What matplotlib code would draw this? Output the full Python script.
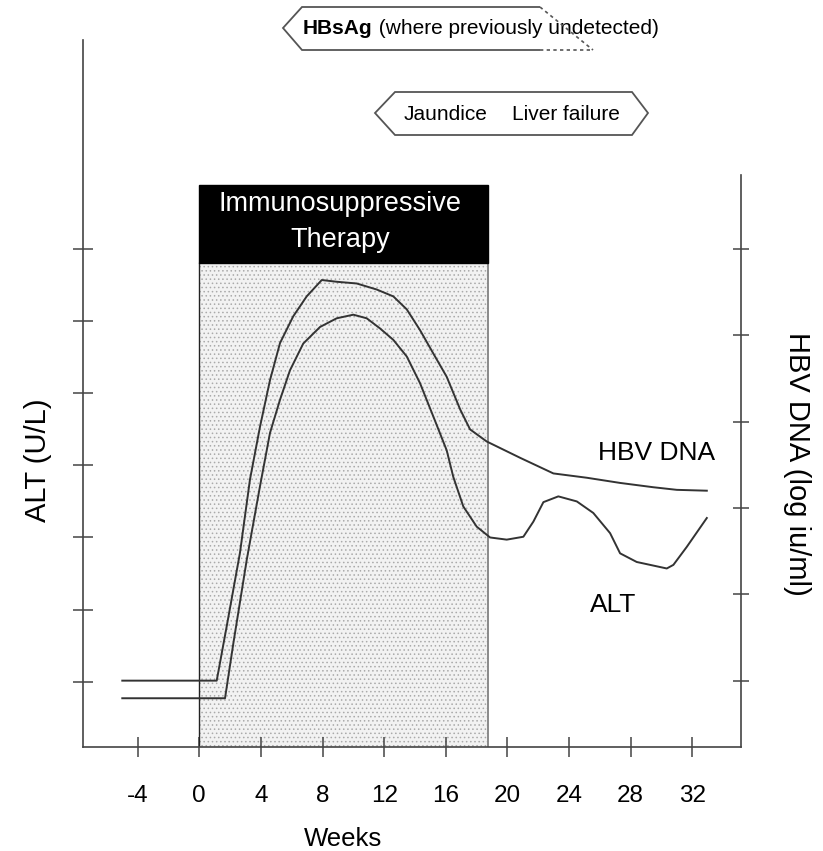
import numpy as np
import matplotlib
matplotlib.use("Agg")
import matplotlib.pyplot as plt
from matplotlib.patches import Rectangle, Polygon
from matplotlib.lines import Line2D

plt.rcParams['font.family'] = ['Liberation Sans', 'DejaVu Sans']
plt.rcParams['hatch.linewidth'] = 0.6

# data
hbv_weeks = [-5.0, 1.13, 1.78, 2.64, 3.29, 3.94, 4.59, 5.24, 6.10, 6.97, 7.95, 8.92,
             10.22, 11.52, 12.60, 13.47, 14.33, 15.19, 16.06, 16.94, 17.58, 18.66,
             20.84, 22.99, 25.16, 27.32, 29.48, 31.0, 32.95]
hbv_dna = [1.0, 1.0, 1.63, 2.48, 3.33, 3.94, 4.48, 4.91, 5.22, 5.45, 5.64, 5.62,
           5.60, 5.53, 5.45, 5.30, 5.06, 4.79, 4.52, 4.14, 3.91, 3.77,
           3.58, 3.40, 3.35, 3.29, 3.24, 3.21, 3.20]

alt_weeks = [-5.0, 1.67, 2.21, 3.08, 3.94, 4.59, 5.24, 5.89, 6.75, 7.84, 8.92, 10.0,
             10.87, 11.73, 12.60, 13.47, 14.33, 15.19, 16.06, 16.49, 17.14, 18.01,
             18.88, 19.96, 21.04, 21.69, 22.34, 23.31, 24.51, 25.58, 26.67, 27.32,
             28.40, 30.35, 30.78, 31.65, 32.95]
alt = [0.77, 0.77, 1.53, 2.69, 3.71, 4.45, 4.91, 5.32, 5.69, 5.92, 6.04, 6.09,
       6.04, 5.90, 5.74, 5.51, 5.14, 4.68, 4.21, 3.84, 3.43, 3.15,
       3.00, 2.97, 3.01, 3.22, 3.49, 3.57, 3.50, 3.34, 3.06, 2.78,
       2.66, 2.57, 2.62, 2.87, 3.27]

therapy_start = 0
therapy_end = 18.75
week_ticks = [-4, 0, 4, 8, 12, 16, 20, 24, 28, 32]
alt_ticks = [1, 2, 3, 4, 5, 6, 7]
dna_ticks = [1, 2, 3, 4, 5, 6]

W, H = 823, 851
fig = plt.figure(figsize=(W / 100, H / 100), dpi=100)
ax = fig.add_axes([82.7 / W, 1 - 746.7 / H, (740.7 - 82.7) / W, (746.7 - 40) / H])
ax2 = ax.twinx()

line_col = '#333333'
ax.set_xlim(-7.57, 35.15)
ax.set_ylim(0.098, 9.90)
ax2.set_ylim(0.235, 8.42)

# therapy period: dotted area plus black header
ax.add_patch(Rectangle((therapy_start, 0.098), therapy_end - therapy_start, 6.803 - 0.098,
                       facecolor='#f2f2f2', edgecolor='#aaaaaa', hatch='....', lw=0, zorder=1))
ax.plot([therapy_start, therapy_start], [0.098, 6.803], color='#222222', lw=1.0, zorder=2)
ax.plot([therapy_end, therapy_end], [0.098, 6.803], color='#8a8a8a', lw=1.4, zorder=2)
ax.add_patch(Rectangle((therapy_start, 6.803), therapy_end - therapy_start, 7.889 - 6.803,
                       facecolor='black', edgecolor='black', zorder=2))
mid = (therapy_start + therapy_end) / 2 - 0.25
ax.text(mid, 7.63, "Immunosuppressive", color='white', fontsize=19.5, ha='center', va='center')
ax.text(mid, 7.12, "Therapy", color='white', fontsize=19.5, ha='center', va='center')

ax.plot(alt_weeks, alt, color=line_col, lw=1.4, zorder=3)
ax2.plot(hbv_weeks, hbv_dna, color=line_col, lw=1.4, zorder=3)

ax.text(29.7, 4.17, "HBV DNA", fontsize=19, ha='center', va='center')
ax.text(26.9, 2.07, "ALT", fontsize=19, ha='center', va='center')

# axes styling
for s in ['top', 'right']:
    ax.spines[s].set_visible(False)
for s in ['top', 'left', 'bottom']:
    ax2.spines[s].set_visible(False)
ax2.spines['right'].set_bounds(0.235, 6.857)
for sp in [ax.spines['left'], ax.spines['bottom'], ax2.spines['right']]:
    sp.set_color('#444444')
    sp.set_linewidth(1.2)

ax.set_xticks(week_ticks)
ax.set_xticklabels([str(t) for t in week_ticks])
ax.set_yticks(alt_ticks)
ax.set_yticklabels([])
ax2.set_yticks(dna_ticks)
ax2.set_yticklabels([])
ax.tick_params(axis='x', direction='inout', length=15, width=1.1, color='#444444',
               labelsize=17.5, pad=20)
ax.tick_params(axis='y', direction='inout', length=14, width=1.1, color='#444444')
ax2.tick_params(axis='y', direction='inout', length=12, width=1.1, color='#444444')

ax.text(-0.068, 0.406, "ALT (U/L)", transform=ax.transAxes, rotation=90,
        fontsize=21, ha='center', va='center')
ax.text(1.0855, 0.40, "HBV DNA (log iu/ml)", transform=ax.transAxes, rotation=-90,
        fontsize=21, ha='center', va='center')
ax.text(0.3956, -0.131, "Weeks", transform=ax.transAxes, fontsize=18.5,
        ha='center', va='center')


# callout boxes above the plot (pixel positions)
def fp(x, y):
    return (x / W, 1 - y / H)


box_col = '#555555'
hb = Polygon([fp(540, 7), fp(302, 7), fp(283, 28), fp(302, 50), fp(540, 50)],
             closed=False, fill=False, edgecolor=box_col, lw=1.3, transform=fig.transFigure)
fig.add_artist(hb)
for seg in ([(540, 50), (593, 50)], [(540, 7), (593, 50)]):
    (x0, y0), (x1, y1) = fp(*seg[0]), fp(*seg[1])
    fig.add_artist(Line2D([x0, x1], [y0, y1], color=box_col, lw=1.2, ls=(0, (2, 2)),
                          transform=fig.transFigure))
t1 = fig.text(*fp(303, 29), "HBsAg", fontsize=15, fontweight='bold', ha='left', va='center')
ax.annotate(" (where previously undetected)", xy=(1, 0.5), xycoords=t1, fontsize=15,
            ha='left', va='center', annotation_clip=False)

jb = Polygon([fp(375, 113), fp(395, 92), fp(632, 92), fp(648, 113), fp(632, 135), fp(395, 135)],
             closed=True, fill=False, edgecolor=box_col, lw=1.3, transform=fig.transFigure)
fig.add_artist(jb)
fig.text(*fp(445.5, 114), "Jaundice", fontsize=15, ha='center', va='center')
fig.text(*fp(566, 114), "Liver failure", fontsize=15, ha='center', va='center')

fig.savefig("out.png", dpi=100)
